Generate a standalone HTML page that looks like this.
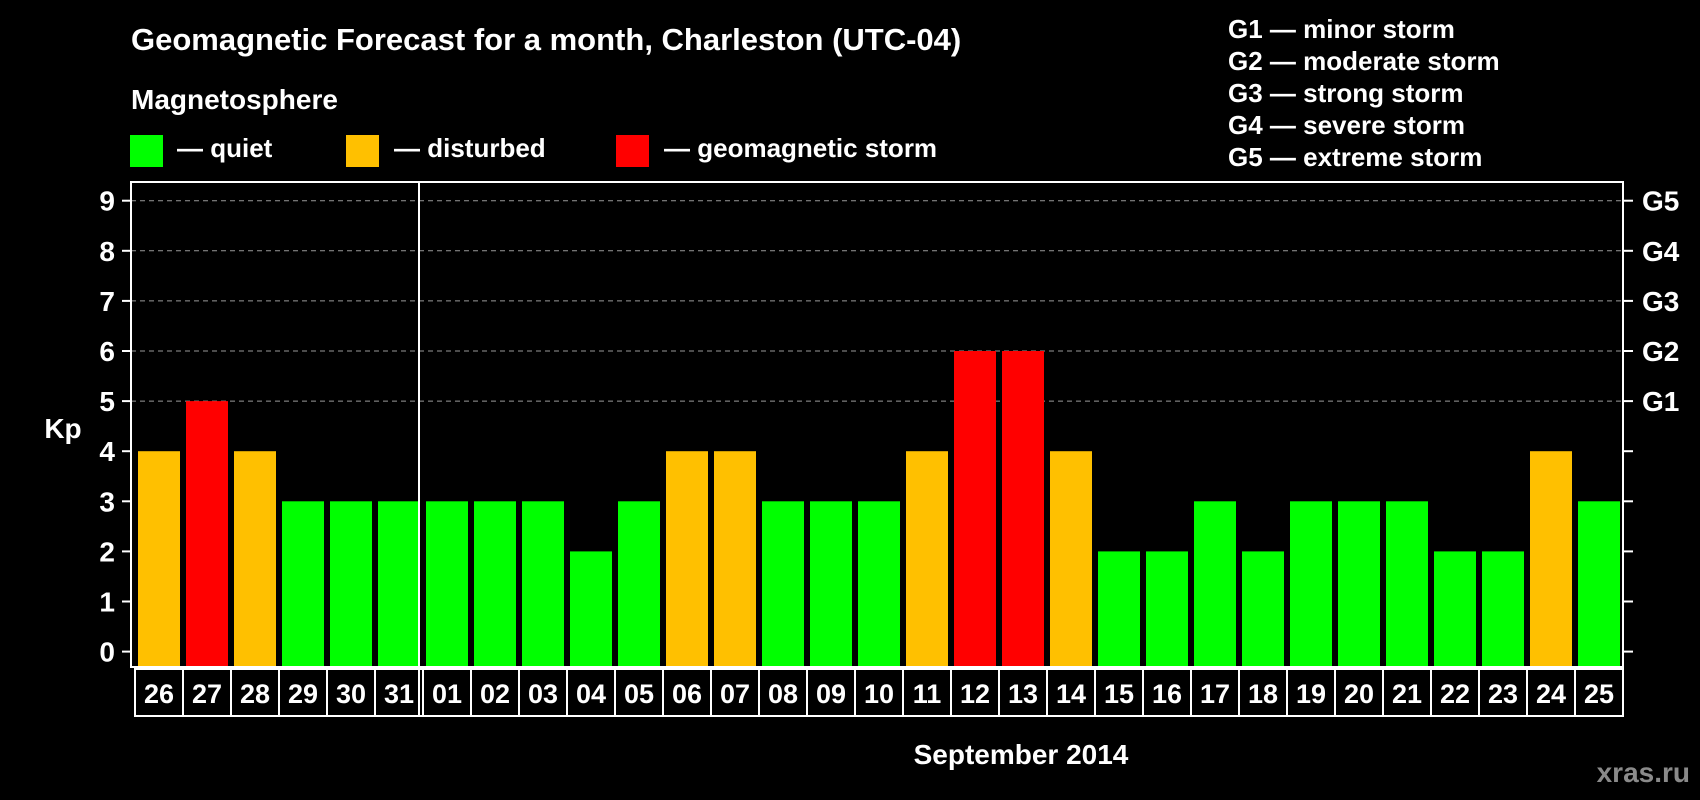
<!DOCTYPE html>
<html><head><meta charset="utf-8"><style>
html,body{margin:0;padding:0;background:#000;}
svg{display:block;font-family:"Liberation Sans",sans-serif;font-weight:bold;}
</style></head><body>
<svg id="chart" width="1700" height="800" viewBox="0 0 1700 800">
<rect x="0" y="0" width="1700" height="800" fill="#000"/>
<text x="131" y="50" font-size="31" fill="#fff">Geomagnetic Forecast for a month, Charleston (UTC-04)</text>
<text x="131" y="109" font-size="28" fill="#fff">Magnetosphere</text>
<g><rect x="130" y="135" width="33" height="32" fill="#00ff00"/><text x="177" y="157" font-size="26" fill="#fff">— quiet</text></g>
<g><rect x="346" y="135" width="33" height="32" fill="#ffc000"/><text x="394" y="157" font-size="26" fill="#fff">— disturbed</text></g>
<g><rect x="616" y="135" width="33" height="32" fill="#ff0000"/><text x="664" y="157" font-size="26" fill="#fff">— geomagnetic storm</text></g>
<g font-size="26" fill="#fff">
<text x="1228" y="38">G1 — minor storm</text>
<text x="1228" y="70">G2 — moderate storm</text>
<text x="1228" y="102">G3 — strong storm</text>
<text x="1228" y="134">G4 — severe storm</text>
<text x="1228" y="166">G5 — extreme storm</text>
</g>
<text x="63" y="438" font-size="28" fill="#fff" text-anchor="middle">Kp</text>
<text x="1021" y="764" font-size="28" fill="#fff" text-anchor="middle">September 2014</text>
<text x="1690" y="782" font-size="28" fill="#8a8a8a" text-anchor="end">xras.ru</text>
<g id="grid"></g><g id="bars"></g><g id="axes"></g>
</svg>
<script>
const days = ["26","27","28","29","30","31","01","02","03","04","05","06","07","08","09","10","11","12","13","14","15","16","17","18","19","20","21","22","23","24","25"];
const kpValues = [4,5,4,3,3,3,3,3,3,2,3,4,4,3,3,3,4,6,6,4,2,2,3,2,3,3,3,2,2,4,3];
const yTicks = [0,1,2,3,4,5,6,7,8,9];
const gLabels = ["G1","G2","G3","G4","G5"];
const gLevels = [5,6,7,8,9];
const NS="http://www.w3.org/2000/svg";
const L=131,R=1623,T=182,B=667,Y0=651.6,DY=50.1,X0=134,PITCH=48,BW=42;
const y=v=>Y0-v*DY;
const xs=i=>X0+i*PITCH;
function mk(tag,attrs,parent){const e=document.createElementNS(NS,tag);for(const k in attrs)e.setAttribute(k,attrs[k]);parent.appendChild(e);return e;}
const grid=document.getElementById('grid'),bars=document.getElementById('bars'),axes=document.getElementById('axes');
gLevels.forEach((lv,i)=>{
  const ln=mk('line',{x1:L,x2:R,y1:y(lv),y2:y(lv),stroke:'#999','stroke-width':1,'stroke-dasharray':'5,4'},grid);
  
  
  const t=mk('text',{x:1642,y:y(lv)+10,'font-size':28,fill:'#fff'},axes);
  t.textContent=gLabels[i];
  
  
});
days.forEach((d,i)=>{
  const v=kpValues[i];
  const c=v>=5?'#ff0000':(v>=4?'#ffc000':'#00ff00');
  const r=mk('rect',{x:xs(i)+4,y:y(v),width:BW,height:B-y(v),fill:c},bars);
  
  
  const box=mk('rect',{x:xs(i)+1,y:669,width:PITCH,height:47,fill:'none',stroke:'#fff','stroke-width':2},axes);
  
  
  const t=mk('text',{x:xs(i)+25,y:703,'font-size':27,fill:'#fff','text-anchor':'middle'},axes);
  t.textContent=d;
  
  
});
yTicks.forEach(v=>{
  const tk=mk('line',{x1:122,x2:L,y1:y(v),y2:y(v),stroke:'#fff','stroke-width':2},axes);
  
  
  const tr=mk('line',{x1:R,x2:1633,y1:y(v),y2:y(v),stroke:'#fff','stroke-width':2},axes);
  
  
  const t=mk('text',{x:115,y:y(v)+10,'font-size':28,fill:'#fff','text-anchor':'end'},axes);
  t.textContent=v;
  
  
});
const fr=mk('rect',{x:L,y:T,width:R-L,height:B-T,fill:'none',stroke:'#fff','stroke-width':2},axes);


const md=mk('line',{x1:xs(6)-3,x2:xs(6)-3,y1:T,y2:716,stroke:'#fff','stroke-width':2},axes);


</script>
</body></html>
